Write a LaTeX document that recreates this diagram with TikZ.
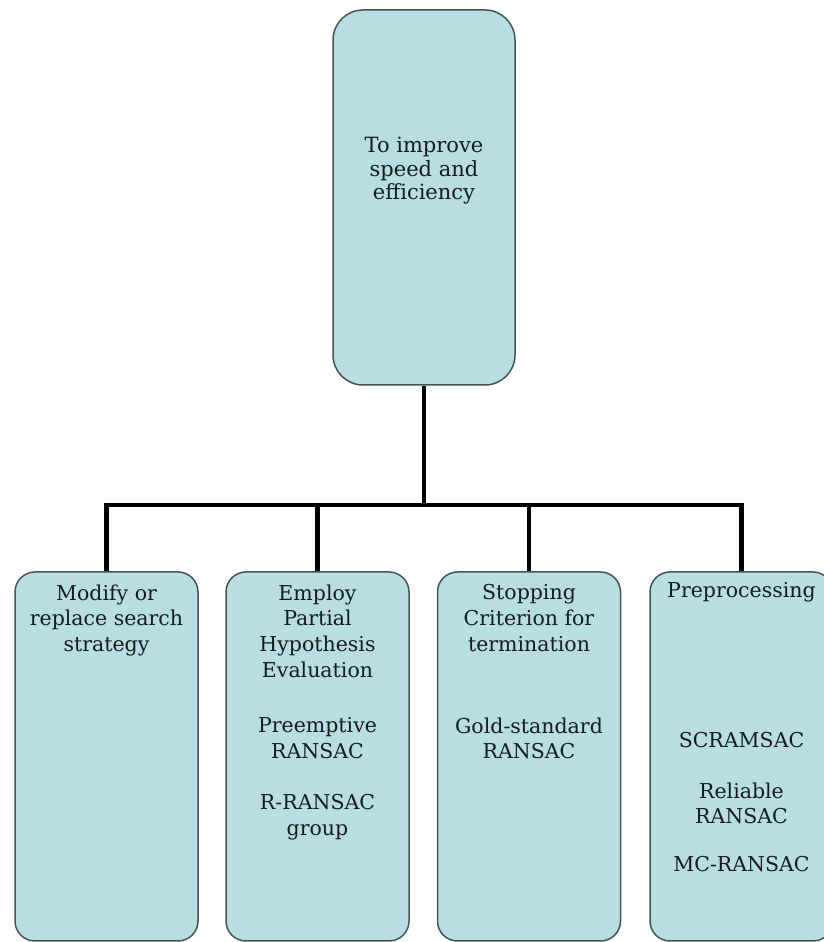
\documentclass[tikz,border=0pt]{standalone}
\usepackage{fontspec}
\setmainfont{DejaVu Serif}
\usetikzlibrary{positioning}
\definecolor{boxfill}{RGB}{184,222,227}
\definecolor{boxline}{RGB}{70,84,88}
\definecolor{txtcol}{RGB}{22,28,30}
\tikzset{
  box/.style={draw=boxline, fill=boxfill, line width=1.5pt, rounded corners=20pt,
    minimum width=183pt, minimum height=369pt, inner sep=0pt},
  txt/.style={align=center, inner sep=0pt, text=txtcol,
    font=\fontsize{20.5}{25.8}\selectfont},
  link/.style={line width=4.5pt}
}
\begin{document}
\begin{tikzpicture}[x=1pt,y=1pt]
  \useasboundingbox (0,0) rectangle (823,942);
  \fill[white] (0,0) rectangle (823,942);
  % top box
  \node[box, minimum width=182pt, minimum height=375pt, rounded corners=30pt] (top) at (424,744.5) {};
  \node[txt, font=\fontsize{21}{23.5}\selectfont, below=128pt of top.north] (toptxt)
    {To improve\\speed and\\efficiency};
  % the four branches
  \node[box] (b1) at (106.5,185.5) {};
  \node[box] (b2) at (317.5,185.5) {};
  \node[box] (b3) at (529,185.5) {};
  \node[box] (b4) at (741.5,185.5) {};
  % connectors
  \coordinate (bar) at (424,437);
  \draw[link] (top.south) -- (bar);
  \foreach \b in {b1,b2,b3,b4}
    \draw[link] (bar) -| (\b.north);
  % texts
  \node[txt, below=13pt of b1.north] (t1) {Modify or\\replace search\\strategy};
  \node[txt, below=13pt of b2.north] (t2a) {Employ\\Partial\\Hypothesis\\Evaluation};
  \node[txt, below=146pt of b2.north] (t2b) {Preemptive\\RANSAC};
  \node[txt, below=223pt of b2.north] (t2c) {R-RANSAC\\group};
  \node[txt, below=13pt of b3.north] (t3a) {Stopping\\Criterion for\\termination};
  \node[txt, below=146pt of b3.north] (t3b) {Gold-standard\\RANSAC};
  \node[txt, below=11pt of b4.north] (t4a) {Preprocessing};
  \node[txt, below=161pt of b4.north] (t4b) {SCRAMSAC};
  \node[txt, below=211pt of b4.north] (t4c) {Reliable\\RANSAC};
  \node[txt, below=285pt of b4.north] (t4d) {MC-RANSAC};
\end{tikzpicture}
\end{document}
